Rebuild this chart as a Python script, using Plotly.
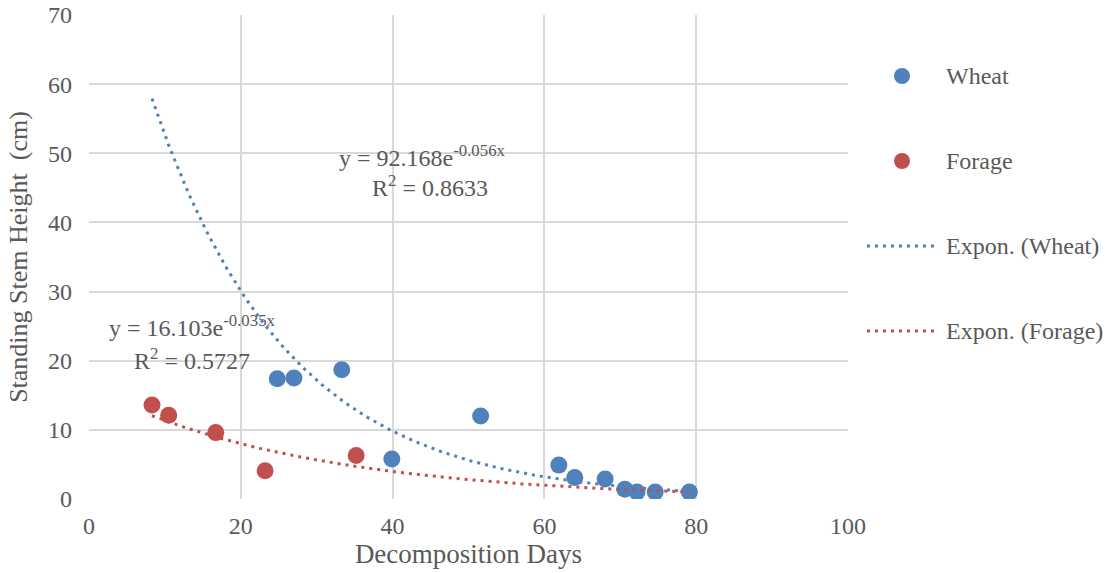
import numpy as np
import plotly.graph_objects as go

# Decomposition days and standing stem heights
wheat_days = [24.8, 27.0, 33.3, 39.9, 51.6, 61.9, 64.0, 68.0, 70.6, 72.2, 74.6, 79.1]
wheat_height = [17.4, 17.5, 18.7, 5.8, 12.0, 4.9, 3.1, 2.9, 1.4, 1.0, 1.0, 1.0]

forage_days = [8.3, 10.5, 16.7, 23.2, 35.2]
forage_height = [13.6, 12.1, 9.6, 4.1, 6.3]

# Exponential trendline coefficients (y = a * exp(b x))
wheat_a, wheat_b, wheat_r2 = 92.168, -0.056, 0.8633
forage_a, forage_b, forage_r2 = 16.103, -0.035, 0.5727
trend_start, trend_end = 8.3, 79.1

x_ticks = [0, 20, 40, 60, 80, 100]
y_ticks = [0, 10, 20, 30, 40, 50, 60, 70]

legend_labels = ["Wheat", "Forage", "Expon. (Wheat)", "Expon. (Forage)"]

BLUE = "#4F81BD"
RED = "#C0504D"
TEXT = "#595959"
GRID = "#D9D9D9"
FONT = "Liberation Serif"
DOTS = "3px,5px"

W, H = 1111, 573
L, R, T, B = 89, 263, 15, 74
PW, PH = W - L - R, H - T - B


def px_to_paper(px, py):
    return (px - L) / PW, 1 - (py - T) / PH


tx = np.linspace(trend_start, trend_end, 200)

fig = go.Figure()
fig.add_trace(go.Scatter(
    x=wheat_days, y=wheat_height, mode="markers", name=legend_labels[0],
    marker=dict(color=BLUE, size=17)))
fig.add_trace(go.Scatter(
    x=forage_days, y=forage_height, mode="markers", name=legend_labels[1],
    marker=dict(color=RED, size=17)))
fig.add_trace(go.Scatter(
    x=tx, y=wheat_a * np.exp(wheat_b * tx), mode="lines", name=legend_labels[2],
    line=dict(color=BLUE, width=3, dash=DOTS)))
fig.add_trace(go.Scatter(
    x=tx, y=forage_a * np.exp(forage_b * tx), mode="lines", name=legend_labels[3],
    line=dict(color=RED, width=3, dash=DOTS)))


def eq_text(a, b):
    return f"y = {a:.3f}e<sup>{b:.3f}x</sup>"


annots = [
    (422, 156, eq_text(wheat_a, wheat_b)),
    (430, 186, f"R<sup>2</sup> = {wheat_r2:.4f}"),
    (192, 326, eq_text(forage_a, forage_b)),
    (192, 359, f"R<sup>2</sup> = {forage_r2:.4f}"),
]
for px, py, t in annots:
    ax, ay = px_to_paper(px, py)
    fig.add_annotation(
        x=ax, y=ay, xref="paper", yref="paper",
        text=t, showarrow=False, xanchor="center", yanchor="middle",
        font=dict(family=FONT, size=24, color=TEXT))

# Legend drawn at the right of the plot area
legend_rows = [76, 161, 246, 331]
legend_kinds = [("marker", BLUE), ("marker", RED), ("line", BLUE), ("line", RED)]
for row, (kind, color), label in zip(legend_rows, legend_kinds, legend_labels):
    if kind == "marker":
        cx, cy = px_to_paper(902, row)
        fig.add_shape(type="circle", xref="paper", yref="paper",
                      xsizemode="pixel", ysizemode="pixel",
                      xanchor=cx, yanchor=cy, x0=-8, x1=8, y0=-8, y1=8,
                      fillcolor=color, line=dict(width=0))
    else:
        x0, y0 = px_to_paper(867, row)
        x1, _ = px_to_paper(936, row)
        fig.add_shape(type="line", xref="paper", yref="paper",
                      x0=x0, x1=x1, y0=y0, y1=y0,
                      line=dict(color=color, width=3, dash=DOTS))
    lx, ly = px_to_paper(944, row)
    fig.add_annotation(x=lx, y=ly, xref="paper", yref="paper", text=label,
                       showarrow=False, xanchor="left", yanchor="middle",
                       font=dict(family=FONT, size=24, color=TEXT))

fig.update_layout(
    width=W, height=H,
    margin=dict(l=L, r=R, t=T, b=B, autoexpand=False),
    paper_bgcolor="white", plot_bgcolor="white",
    font=dict(family=FONT, color=TEXT, size=24),
    showlegend=False,
    xaxis=dict(range=[0, 100], tickvals=x_ticks, showgrid=True, gridcolor=GRID,
               gridwidth=2, zeroline=False, showline=False, ticks="",
               ticklabelstandoff=10,
               tickfont=dict(size=24, color=TEXT),
               title=dict(text="Decomposition Days", standoff=0,
                          font=dict(size=27, color=TEXT))),
    yaxis=dict(range=[0, 70], tickvals=y_ticks, showgrid=True, gridcolor=GRID,
               gridwidth=2, zeroline=False, showline=False, ticks="",
               ticklabelstandoff=16,
               tickfont=dict(size=24, color=TEXT),
               title=dict(text="Standing Stem Height  (cm)", standoff=12,
                          font=dict(size=26, color=TEXT))),
)

fig.write_html("out.html")
